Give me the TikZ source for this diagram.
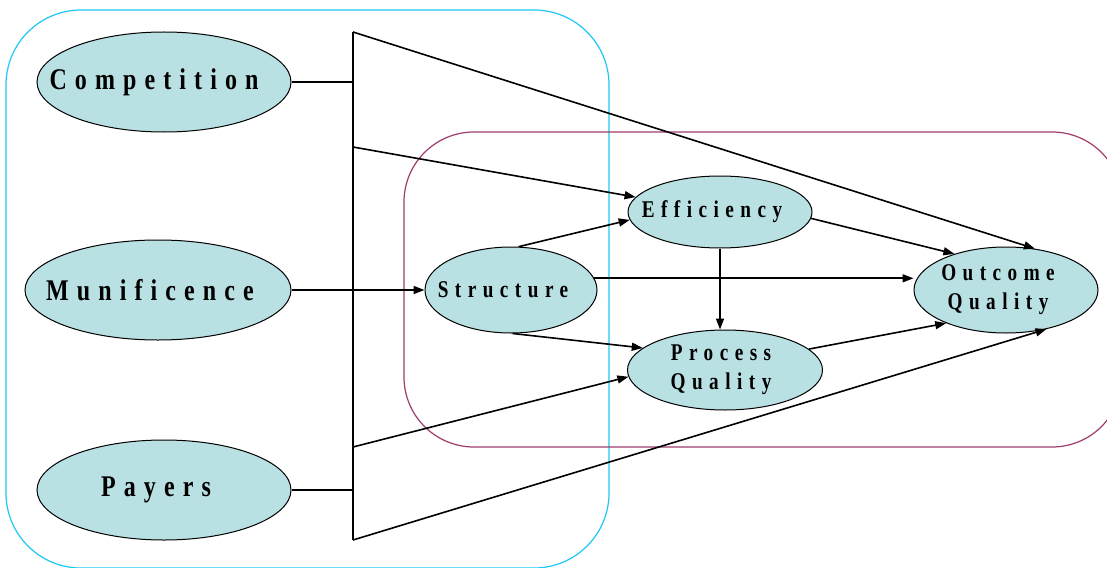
\documentclass[tikz,border=0pt]{standalone}
\usepackage{fontspec}
\setmainfont{Liberation Serif}[LetterSpace=27,FakeStretch=0.8]
\usetikzlibrary{arrows.meta,shapes.geometric}
\definecolor{ellfill}{HTML}{B9E0E3}
\definecolor{bluebox}{HTML}{1EC8F5}
\definecolor{plumbox}{HTML}{A03C6E}
\tikzset{
  ell/.style={ellipse, draw=black, line width=1pt, fill=ellfill, inner sep=0pt},
  lab/.style={align=center, inner sep=0pt, xshift=-8pt},
  biglab/.style={lab, font=\fontsize{30}{32}\selectfont\bfseries},
  smalllab/.style={lab, font=\fontsize{24}{29}\selectfont\bfseries},
  bigell/.style={ell, minimum width=254pt, minimum height=100pt},
  conn/.style={line width=1.2pt, draw=black},
  arr/.style={line width=1.6pt, draw=black, -{Triangle[length=11pt,width=8pt]}},
}
\begin{document}
\begin{tikzpicture}[x=1pt,y=-1pt]
\useasboundingbox (0,0) rectangle (1107,567);
\clip (0,0) rectangle (1107,567);
\fill[white] (0,0) rectangle (1107,567);
% boxes
\draw[bluebox, line width=1.2pt, rounded corners=75pt] (6,10) rectangle (609,568);
\draw[plumbox, line width=1.2pt, rounded corners=70pt] (404,132) rectangle (1122,447);
% nodes
\node[bigell, label={[biglab, xshift=-2pt]center:Competition}] (comp) at (164,82) {};
\node[bigell, minimum width=266pt, label={[biglab]center:Munificence}] (mun) at (158,290) {};
\node[bigell, label={[biglab]center:Payers}] (pay) at (164,490) {};
\node[ell, minimum width=172pt, minimum height=86pt, label={[smalllab]center:Structure}] (str) at (511,290) {};
\node[ell, minimum width=184pt, minimum height=72pt, label={[smalllab]center:Efficiency}] (eff) at (720,212) {};
\node[ell, minimum width=195pt, minimum height=80pt, label={[smalllab, xshift=4pt]center:{Process\\Quality}}] (proc) at (725,370) {};
\node[ell, minimum width=184pt, minimum height=86pt, label={[smalllab]center:{Outcome\\Quality}}] (out) at (1006,290) {};
% bar
\coordinate (v1) at (353,32);
\coordinate (v2) at (353,147);
\coordinate (v3) at (353,447);
\coordinate (v4) at (353,540);
\draw[conn] (v1) -- (v4);
\draw[conn] (comp.east) -- (comp.east -| v1);
\draw[conn] (pay.east) -- (pay.east -| v1);
\draw[arr] (mun.east) -- (str.west);
\draw[arr] (v1) -- (out.55);
\draw[arr] (v2) -- (eff.170);
\draw[arr] (v3) -- (proc.184);
\draw[arr] (v4) -- (out.-44);
\draw[arr] (str.80) -- (eff.185);
\draw[arr] (str.8) -- (str.8 -| out.west);
\draw[arr] (str.272) -- (proc.165);
\draw[arr] (eff.south) -- (eff.south |- proc.north);
\draw[arr] (eff.-4) -- (out.145);
\draw[arr] (proc.14) -- (out.209);
\end{tikzpicture}
\end{document}
